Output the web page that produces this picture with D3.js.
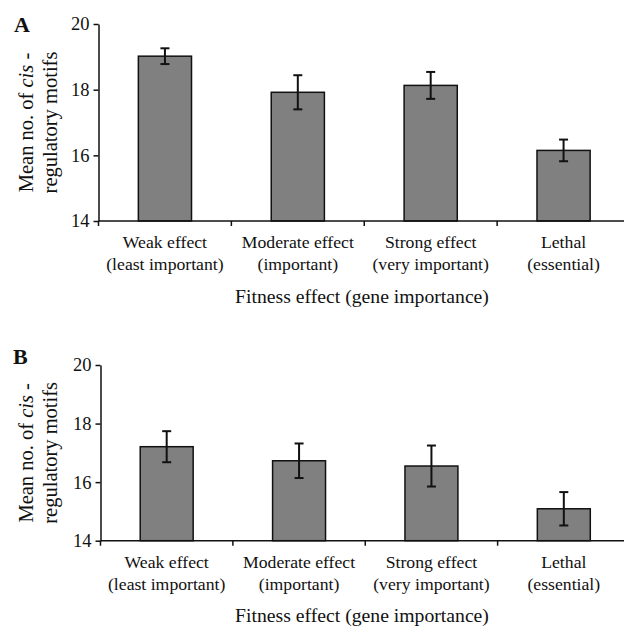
<!DOCTYPE html>
<html>
<head>
<meta charset="utf-8">
<script src="https://cdn.jsdelivr.net/npm/d3@7"></script>
<style>
  body { margin: 0; background: #fff; }
  text { font-family: "Liberation Serif", "Times New Roman", serif; fill: #111; }
</style>
</head>
<body>
<div id="chart"></div>
<script>
var categories = ["Weak effect", "Moderate effect", "Strong effect", "Lethal"];
var subLabels = ["(least important)", "(important)", "(very important)", "(essential)"];
var meansA = [19.02, 17.92, 18.13, 16.15];
var errA = [0.24, 0.52, 0.41, 0.33];
var meansB = [17.21, 16.73, 16.55, 15.09];
var errB = [0.53, 0.59, 0.70, 0.57];
var yTicks = [14, 16, 18, 20];

var svg = d3.select("#chart")
  .append("svg")
  .attr("width", 624)
  .attr("height", 627);

function drawPanel(letter, means, errs, left, right, top, bottom, letterX, letterY) {
  var g = svg.append("g");

  var x = d3.scaleBand()
    .domain(categories)
    .range([left, right])
    .paddingInner(0.6)
    .paddingOuter(0.3);

  var y = d3.scaleLinear()
    .domain([14, 20])
    .range([bottom, top]);

  // y axis
  var yAxis = g.append("g")
    .attr("transform", "translate(" + left + ",0)")
    .attr("font-family", null)
    .call(d3.axisLeft(y).tickValues(yTicks).tickFormat(d3.format("d")).tickSize(5).tickPadding(4).tickSizeOuter(0));
  yAxis.attr("font-family", "Liberation Serif");
  yAxis.select(".domain").attr("stroke", "#111").attr("stroke-width", 1.5);
  yAxis.selectAll(".tick line").attr("stroke", "#111").attr("stroke-width", 1.5);
  yAxis.selectAll(".tick text")
    .style("font-family", "Liberation Serif")
    .style("font-size", "18.5px")
    .attr("fill", "#111");

  // bars
  var data = categories.map(function (c, i) { return { cat: c, sub: subLabels[i], value: means[i], err: errs[i] }; });

  g.selectAll(".bar")
    .data(data)
    .enter().append("rect")
    .attr("class", "bar")
    .attr("x", d => x(d.cat))
    .attr("y", d => y(d.value))
    .attr("width", x.bandwidth())
    .attr("height", d => y(14) - y(d.value))
    .attr("fill", "#808080")
    .attr("stroke", "#111")
    .attr("stroke-width", 1.5);

  // error bars
  var eb = g.selectAll(".err")
    .data(data)
    .enter().append("g")
    .attr("class", "err")
    .attr("stroke", "#111")
    .attr("stroke-width", 2);
  eb.append("line")
    .attr("x1", d => x(d.cat) + x.bandwidth() / 2)
    .attr("x2", d => x(d.cat) + x.bandwidth() / 2)
    .attr("y1", d => y(d.value + d.err))
    .attr("y2", d => y(d.value - d.err));
  eb.append("line")
    .attr("x1", d => x(d.cat) + x.bandwidth() / 2 - 4.5)
    .attr("x2", d => x(d.cat) + x.bandwidth() / 2 + 4.5)
    .attr("y1", d => y(d.value + d.err))
    .attr("y2", d => y(d.value + d.err));
  eb.append("line")
    .attr("x1", d => x(d.cat) + x.bandwidth() / 2 - 4.5)
    .attr("x2", d => x(d.cat) + x.bandwidth() / 2 + 4.5)
    .attr("y1", d => y(d.value - d.err))
    .attr("y2", d => y(d.value - d.err));

  // x axis line and boundary ticks
  var step = x.step();
  var bounds = d3.range(categories.length + 1).map(i => left + i * step);
  g.append("line")
    .attr("x1", left).attr("x2", right)
    .attr("y1", bottom).attr("y2", bottom)
    .attr("stroke", "#111").attr("stroke-width", 1.5);
  g.selectAll(".btick")
    .data(bounds)
    .enter().append("line")
    .attr("class", "btick")
    .attr("x1", d => d).attr("x2", d => d)
    .attr("y1", bottom).attr("y2", bottom + 5)
    .attr("stroke", "#111").attr("stroke-width", 1.5);

  // category labels
  var lab = g.selectAll(".cat")
    .data(data)
    .enter().append("text")
    .attr("class", "cat")
    .attr("text-anchor", "middle")
    .style("font-size", "17.7px");
  lab.append("tspan")
    .attr("x", d => x(d.cat) + x.bandwidth() / 2)
    .attr("y", bottom + 27)
    .text(d => d.cat);
  lab.append("tspan")
    .attr("x", d => x(d.cat) + x.bandwidth() / 2)
    .attr("y", bottom + 49)
    .text(d => d.sub);

  // x title
  g.append("text")
    .attr("x", 362)
    .attr("y", bottom + 81.5)
    .attr("text-anchor", "middle")
    .style("font-size", "19.7px")
    .text("Fitness effect (gene importance)");

  // y title
  var mid = (top + bottom) / 2;
  var yl = g.append("text")
    .attr("transform", "translate(33," + mid + ") rotate(-90)")
    .attr("text-anchor", "middle")
    .style("font-size", "20.5px");
  yl.append("tspan").text("Mean no. of ");
  yl.append("tspan").style("font-style", "italic").text("cis");
  yl.append("tspan").text(" -");
  g.append("text")
    .attr("transform", "translate(57," + mid + ") rotate(-90)")
    .attr("text-anchor", "middle")
    .style("font-size", "20.5px")
    .text("regulatory motifs");

  // panel letter
  g.append("text")
    .attr("x", letterX)
    .attr("y", letterY)
    .style("font-size", "22px")
    .style("font-weight", "bold")
    .text(letter);
}

drawPanel("A", meansA, errA, 98.5, 630, 24, 221, 14, 32);
drawPanel("B", meansB, errB, 100.5, 630, 365, 540.7, 13, 364);
</script>
</body>
</html>
